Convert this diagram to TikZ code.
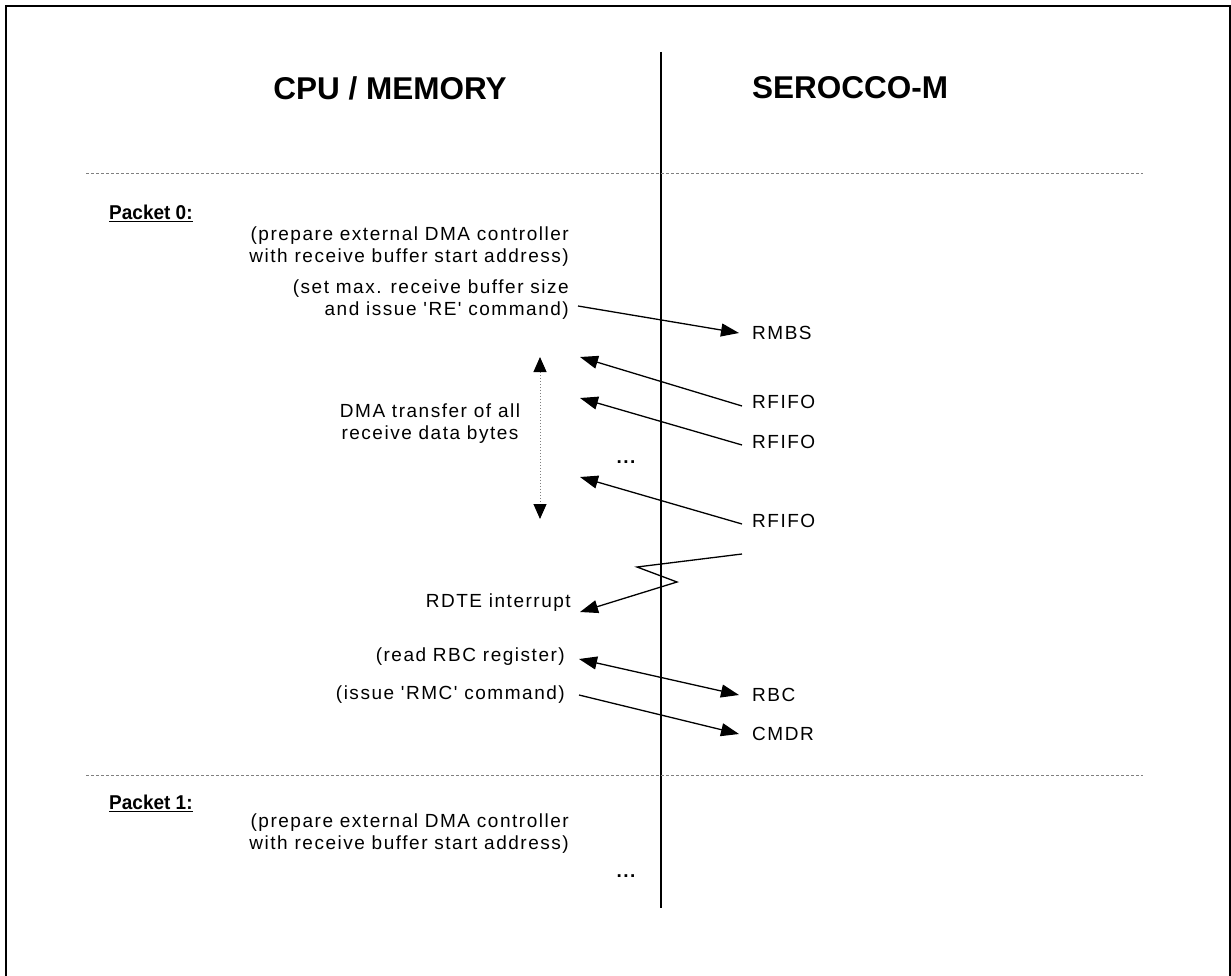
\documentclass[tikz,border=0pt]{standalone}
\usepackage{fontspec}
\setmainfont{Liberation Sans}
\newfontfamily\msgfont[LetterSpace=8,Ligatures=TeXOff]{Liberation Sans}
\newfontfamily\pktfont[FakeStretch=0.95]{Liberation Sans}
\usetikzlibrary{arrows.meta}

\begin{document}
\begin{tikzpicture}[x=1pt, y=-1pt,
    txt/.style={font=\msgfont\fontsize{19}{22}\selectfont, align=right, inner sep=0pt},
    hdr/.style={font=\fontsize{31.5}{36}\selectfont\bfseries, inner sep=0pt},
    pkt/.style={font=\pktfont\fontsize{20}{22}\selectfont\bfseries, inner sep=0pt},
    dots/.style={font=\msgfont\fontsize{19}{22}\selectfont\bfseries, inner sep=0pt},
    msg/.style={-{Triangle[length=18pt,width=13pt]}, line width=1.3pt},
    sep/.style={gray, dash pattern=on 3pt off 2pt, line width=0.8pt}]
    \useasboundingbox (0,0) rectangle (1231,976);
    \draw[line width=1.8pt] (6,6) rectangle (1230,990);

    % headings and the border between both sides
    \node[hdr] (cpu) at (390,88) {CPU / MEMORY};
    \node[hdr] (sero) at (850,88) {SEROCCO-M};
    \coordinate (lt) at (661,52);
    \coordinate (lb) at (661,908);
    \draw[line width=1.5pt] (lt) -- (lb);
    \coordinate (s0l) at (86,173);
    \coordinate (s0r) at (1143,173);
    \coordinate (s1l) at (86,775);
    \coordinate (s1r) at (1143,775);
    \draw[sep] (s0l) -- (s0r);
    \draw[sep] (s1l) -- (s1r);

    % packet 0
    \node[pkt, anchor=west] (p0) at (109,213) {\underline{Packet 0:}};
    \node[txt, anchor=east] (prep0) at (569,247) {(prepare external DMA controller\\with receive buffer start address)};
    \node[txt, anchor=east] (setmax) at (569,300) {(set max. receive buffer size\\and issue 'RE' command)};
    \node[txt, anchor=west] (rmbs) at (752,333) {RMBS};
    \draw[msg] ([xshift=9pt,yshift=-6pt]setmax.east) -- ([xshift=-13pt]rmbs.west);

    \node[txt, anchor=west] (rf1) at (752,402) {RFIFO};
    \node[txt, anchor=west] (rf2) at (752,442) {RFIFO};
    \node[txt, anchor=west] (rf3) at (752,521) {RFIFO};
    \coordinate (d1) at (580,357);
    \coordinate (d2) at (580,398);
    \coordinate (d3) at (580,477);
    \draw[msg] ([xshift=-10pt,yshift=-4pt]rf1.west) -- (d1);
    \draw[msg] ([xshift=-10pt,yshift=-3pt]rf2.west) -- (d2);
    \draw[msg] ([xshift=-10pt,yshift=-3pt]rf3.west) -- (d3);
    \node[dots] (dots0) at (626,462) {...};

    \node[txt, align=center] (dma) at (430,424) {DMA transfer of all\\receive data bytes};
    \coordinate (dt) at (540,357);
    \coordinate (db) at (540,519);
    \draw[gray, dotted, line width=1pt, {Triangle[length=15pt,width=13pt,color=black]}-{Triangle[length=15pt,width=13pt,color=black]}] (dt) -- (db);

    % end of frame
    \node[txt, anchor=east] (rdte) at (571,603) {RDTE interrupt};
    \coordinate (z0) at (742,554);
    \coordinate (z1) at (637,567);
    \coordinate (z2) at (677,582);
    \draw[msg] (z0) -- (z1) -- (z2) -- ([xshift=9pt,yshift=-9pt]rdte.east);

    \node[txt, anchor=east] (rrbc) at (565,657) {(read RBC register)};
    \node[txt, anchor=east] (rmc) at (565,695) {(issue 'RMC' command)};
    \node[txt, anchor=west] (rbc) at (752,695) {RBC};
    \node[txt, anchor=west] (cmdr) at (752,734) {CMDR};
    \draw[{Triangle[length=18pt,width=13pt]}-{Triangle[length=18pt,width=13pt]}, line width=1.3pt] ([xshift=14pt,yshift=-2pt]rrbc.east) -- ([xshift=-13pt]rbc.west);
    \draw[msg] ([xshift=14pt]rmc.east) -- ([xshift=-13pt]cmdr.west);

    % packet 1
    \node[pkt, anchor=west] (p1) at (109,803) {\underline{Packet 1:}};
    \node[txt, anchor=east] (prep1) at (569,834) {(prepare external DMA controller\\with receive buffer start address)};
    \node[dots] (dots1) at (626,876) {...};
\end{tikzpicture}
\end{document}
